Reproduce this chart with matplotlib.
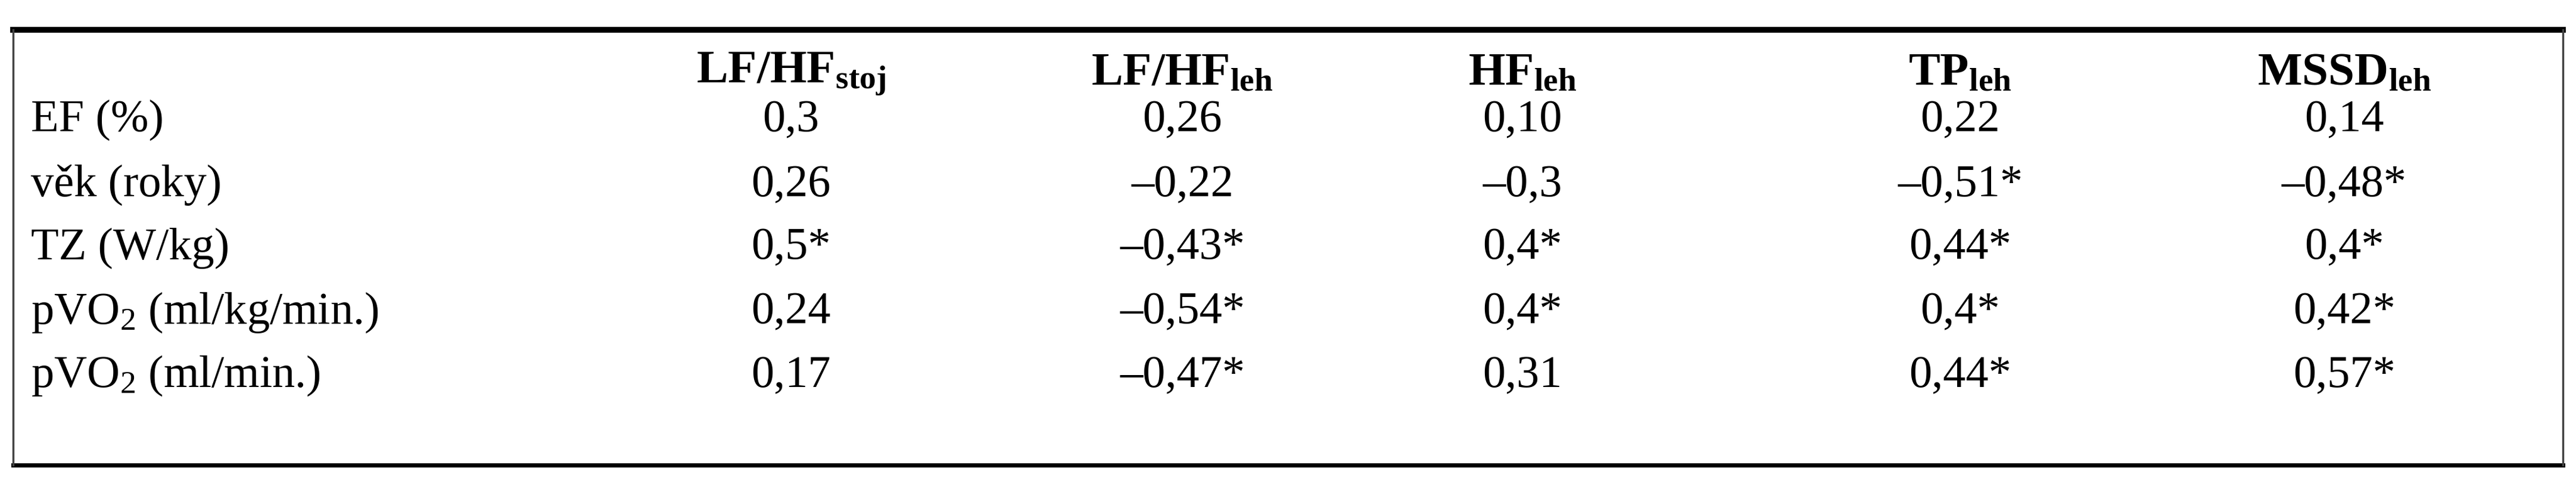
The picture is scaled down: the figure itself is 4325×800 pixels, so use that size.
import matplotlib
matplotlib.use('Agg')
import matplotlib.pyplot as plt
from matplotlib.lines import Line2D

plt.rcParams['font.family'] = ['Liberation Serif', 'DejaVu Serif']
plt.rcParams['mathtext.fontset'] = 'custom'
plt.rcParams['mathtext.rm'] = 'Liberation Serif'
plt.rcParams['mathtext.it'] = 'Liberation Serif:italic'
plt.rcParams['mathtext.bf'] = 'Liberation Serif:bold'

# data
columns = [r'$\mathbf{LF/HF}_{\mathbf{stoj}}$', r'$\mathbf{LF/HF}_{\mathbf{leh}}$',
           r'$\mathbf{HF}_{\mathbf{leh}}$', r'$\mathbf{TP}_{\mathbf{leh}}$',
           r'$\mathbf{MSSD}_{\mathbf{leh}}$']
rows = ['EF (%)', 'věk (roky)', 'TZ (W/kg)', 'pVO$_2$ (ml/kg/min.)', 'pVO$_2$ (ml/min.)']
values = [
    ['0,3', '0,26', '0,10', '0,22', '0,14'],
    ['0,26', '–0,22', '–0,3', '–0,51*', '–0,48*'],
    ['0,5*', '–0,43*', '0,4*', '0,44*', '0,4*'],
    ['0,24', '–0,54*', '0,4*', '0,4*', '0,42*'],
    ['0,17', '–0,47*', '0,31', '0,44*', '0,57*'],
]

col_x = [0.307, 0.459, 0.591, 0.761, 0.910]
row_y = [0.748, 0.612, 0.480, 0.345, 0.212]
header_y = 0.845

fig = plt.figure(figsize=(43.25, 8), dpi=100, facecolor='white')

# frame
fig.add_artist(Line2D([0.005, 0.995], [0.938, 0.938], color='black', lw=7))
fig.add_artist(Line2D([0.005, 0.995], [0.025, 0.025], color='black', lw=5))
fig.add_artist(Line2D([0.005, 0.005], [0.025, 0.938], color='#444444', lw=2.5))
fig.add_artist(Line2D([0.995, 0.995], [0.025, 0.938], color='#444444', lw=2.5))

fs = 55
for x, c in zip(col_x, columns):
    fig.text(x, header_y, c, ha='center', va='center', fontsize=fs + 2)

for y, r, vals in zip(row_y, rows, values):
    fig.text(0.012, y, r, ha='left', va='center', fontsize=fs)
    for x, v in zip(col_x, vals):
        fig.text(x, y, v, ha='center', va='center', fontsize=fs)

fig.savefig('out.png', dpi=100)
